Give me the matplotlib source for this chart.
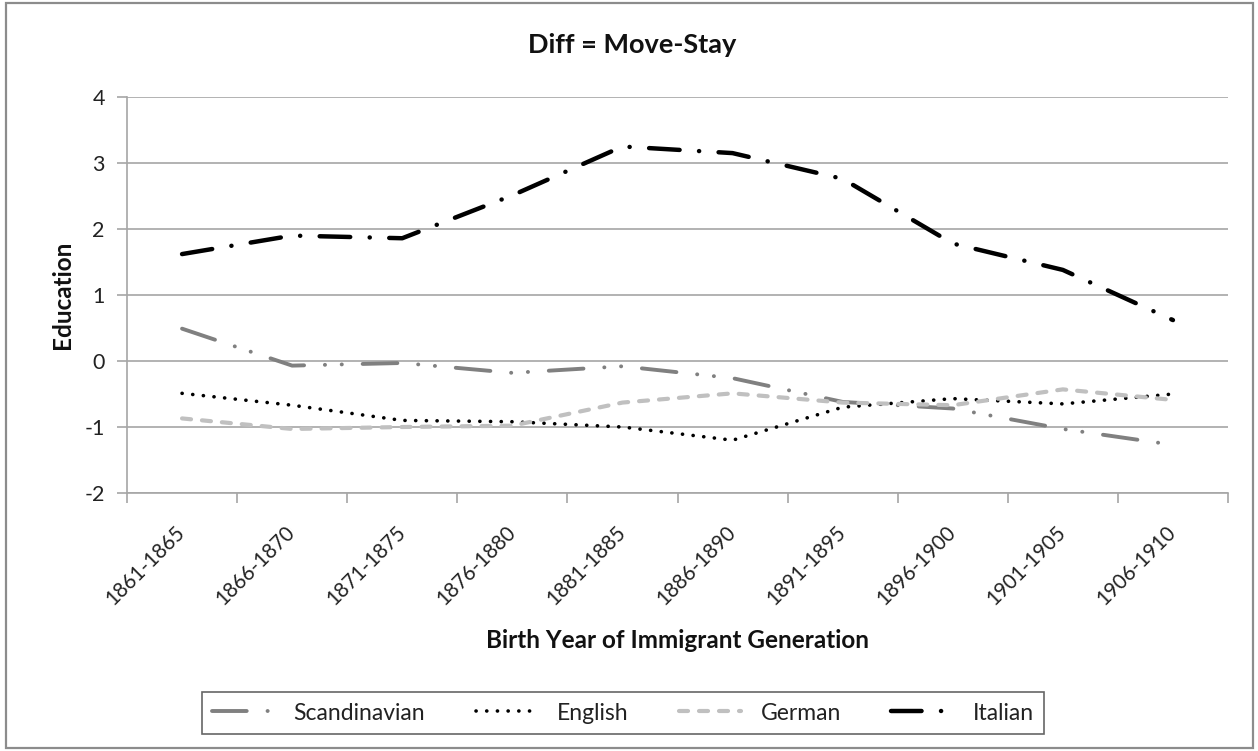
import matplotlib
matplotlib.use("Agg")
import matplotlib.pyplot as plt
from matplotlib.patches import Rectangle

# values
periods = ["1861-1865", "1866-1870", "1871-1875", "1876-1880", "1881-1885",
           "1886-1890", "1891-1895", "1896-1900", "1901-1905", "1906-1910"]
scandinavian = [0.49, -0.07, -0.03, -0.18, -0.08, -0.26, -0.62, -0.72, -1.03, -1.27]
english = [-0.49, -0.67, -0.90, -0.92, -1.00, -1.20, -0.70, -0.57, -0.65, -0.50]
german = [-0.87, -1.03, -1.00, -0.98, -0.63, -0.49, -0.63, -0.67, -0.43, -0.59]
italian = [1.62, 1.90, 1.86, 2.51, 3.25, 3.15, 2.76, 1.78, 1.38, 0.62]
y_ticks = [-2, -1, 0, 1, 2, 3, 4]

plt.rcParams["font.family"] = ["Lato", "DejaVu Sans"]
plt.rcParams["lines.scale_dashes"] = False
plt.rcParams["axes.unicode_minus"] = False

W, H = 1258, 751
fig = plt.figure(figsize=(W / 100, H / 100), dpi=100)
fig.patches.append(Rectangle((6 / W, 3 / H), 1247 / W, 745 / H, transform=fig.transFigure,
                             fill=False, edgecolor="#8c8c8c", linewidth=1.6))

ax = fig.add_axes([127 / W, 1 - 493 / H, 1101 / W, 396 / H])
x = list(range(len(periods)))

grid_c = "#a6a6a6"
ax.set_ylim(-2, 4)
ax.set_xlim(-0.5, len(periods) - 0.5)
ax.set_yticks(y_ticks)
ax.yaxis.grid(True, color=grid_c, linewidth=1.2)
ax.set_axisbelow(True)
for s in ["top", "right"]:
    ax.spines[s].set_visible(False)
for s in ["left", "bottom"]:
    ax.spines[s].set_color(grid_c)
    ax.spines[s].set_linewidth(1.2)

ax.set_xticks([i - 0.5 for i in range(len(periods) + 1)])
ax.set_xticklabels([])
ax.set_xticks(x, minor=True)
ax.set_xticklabels(periods, minor=True, rotation=45, ha="right", va="center",
                   rotation_mode="anchor", fontsize=14.8, color="#222222")
ax.tick_params(axis="x", which="major", length=7, color=grid_c, width=1.2)
ax.tick_params(axis="x", which="minor", length=0, pad=26)
ax.tick_params(axis="y", length=7, color=grid_c, width=1.2, labelsize=15.5,
               labelcolor="#222222", pad=9)

lines = [
    ("Scandinavian", scandinavian, "#808080", 2.8, (0, (25, 15, 0.1, 12, 0.1, 15))),
    ("English", english, "black", 2.6, (0, (0.1, 7.6))),
    ("German", german, "#c0c0c0", 3.0, (0, (6.5, 7.9))),
    ("Italian", italian, "black", 3.2, (0, (22, 14, 0.1, 14))),
]
for name, vals, col, lw, ls in lines:
    ax.plot(x, vals, color=col, linewidth=lw, linestyle=ls, label=name,
            dash_capstyle="round", solid_capstyle="round")

fig.text(632 / W, 1 - 45 / H, "Diff = Move-Stay", ha="center", va="center",
         fontsize=19.5, fontweight="bold", color="#111111")
fig.text(678 / W, 1 - 640 / H, "Birth Year of Immigrant Generation", ha="center",
         va="center", fontsize=17.5, fontweight="bold", color="#111111")
fig.text(62 / W, 1 - 295 / H, "Education", ha="center", va="center", rotation=90,
         fontsize=17.5, fontweight="bold", color="#111111")

leg = fig.legend(loc="center", bbox_to_anchor=(623 / W, 1 - 713 / H), ncol=4,
                 fontsize=16.5, frameon=True, fancybox=False, handlelength=2.7,
                 columnspacing=2.2, borderpad=0.45, handletextpad=0.85)
leg.get_frame().set_edgecolor("#404040")
leg.get_frame().set_linewidth(1.2)
for t in leg.get_texts():
    t.set_color("#222222")

fig.savefig("out.png", dpi=100)
